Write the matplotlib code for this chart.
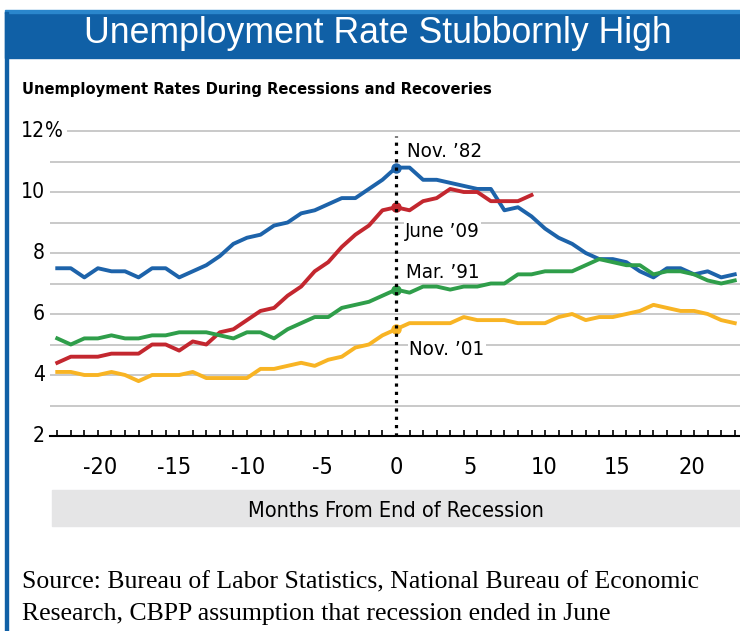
import numpy as np
import matplotlib.pyplot as plt
import matplotlib.font_manager as fm
from matplotlib.font_manager import FontProperties
from matplotlib.patches import Rectangle
from matplotlib.transforms import blended_transform_factory

# months from the end of each recession
months = np.arange(-25, 26)

# unemployment rate (%) around each recession end
nov82 = [7.5, 7.5, 7.2, 7.5, 7.4, 7.4, 7.2, 7.5, 7.5, 7.2, 7.4, 7.6, 7.9, 8.3,
         8.5, 8.6, 8.9, 9.0, 9.3, 9.4, 9.6, 9.8, 9.8, 10.1, 10.4, 10.8,
         10.8, 10.4, 10.4, 10.3, 10.2, 10.1, 10.1, 9.4, 9.5, 9.2, 8.8, 8.5,
         8.3, 8.0, 7.8, 7.8, 7.7, 7.4, 7.2, 7.5, 7.5, 7.3, 7.4, 7.2, 7.3]
jun09 = [4.4, 4.6, 4.6, 4.6, 4.7, 4.7, 4.7, 5.0, 5.0, 4.8, 5.1, 5.0, 5.4, 5.5,
         5.8, 6.1, 6.2, 6.6, 6.9, 7.4, 7.7, 8.2, 8.6, 8.9, 9.4, 9.5,
         9.4, 9.7, 9.8, 10.1, 10.0, 10.0, 9.7, 9.7, 9.7, 9.9]
mar91 = [5.2, 5.0, 5.2, 5.2, 5.3, 5.2, 5.2, 5.3, 5.3, 5.4, 5.4, 5.4, 5.3, 5.2,
         5.4, 5.4, 5.2, 5.5, 5.7, 5.9, 5.9, 6.2, 6.3, 6.4, 6.6, 6.8,
         6.7, 6.9, 6.9, 6.8, 6.9, 6.9, 7.0, 7.0, 7.3, 7.3, 7.4, 7.4, 7.4,
         7.6, 7.8, 7.7, 7.6, 7.6, 7.3, 7.4, 7.4, 7.3, 7.1, 7.0, 7.1]
nov01 = [4.1, 4.1, 4.0, 4.0, 4.1, 4.0, 3.8, 4.0, 4.0, 4.0, 4.1, 3.9, 3.9, 3.9,
         3.9, 4.2, 4.2, 4.3, 4.4, 4.3, 4.5, 4.6, 4.9, 5.0, 5.3, 5.5,
         5.7, 5.7, 5.7, 5.7, 5.9, 5.8, 5.8, 5.8, 5.7, 5.7, 5.7, 5.9, 6.0,
         5.8, 5.9, 5.9, 6.0, 6.1, 6.3, 6.2, 6.1, 6.1, 6.0, 5.8, 5.7]

y_ticks = [2, 4, 6, 8, 10, 12]
x_labels = ['-20', '-15', '-10', '-5', '0', '5', '10', '15', '20']

BLUE = '#1d63aa'
RED = '#c3272f'
GREEN = '#2f9e4a'
YELLOW = '#f8b424'
FRAME = '#1060a6'

W, H = 740, 631


def find_narrow(bold):
    # a condensed sans face, if one is installed
    for f in fm.fontManager.ttflist:
        name = f.fname.lower().split('/')[-1]
        if not ('narrow' in name or 'condensed' in name):
            continue
        if 'mono' in name or 'serif' in name or 'italic' in name or 'oblique' in name:
            continue
        if ('bold' in name) == bold:
            return f.fname
    return None


reg_file = find_narrow(False)
bold_file = find_narrow(True)
# Liberation Sans Narrow is much narrower than DejaVu Sans Condensed
shrink = 1.0 if (reg_file and 'narrow' in reg_file.lower()) else 0.84


def narrow(size, bold=False):
    path = bold_file if bold else reg_file
    if path:
        return FontProperties(fname=path, size=size * shrink)
    return FontProperties(family='Liberation Sans', size=size * 0.8,
                          weight='bold' if bold else 'normal')


def fx(px):
    return px / W


def fy(py):
    return 1 - py / H


fig = plt.figure(figsize=(W / 100, H / 100), dpi=100)

# frame: title bar and left rule
fig.patches.append(Rectangle((fx(5), fy(58)), fx(740) - fx(5), fy(12) - fy(58),
                             transform=fig.transFigure, color=FRAME, zorder=0))
fig.patches.append(Rectangle((fx(5), fy(13)), fx(740) - fx(5), fy(10) - fy(13),
                             transform=fig.transFigure, color='#2a86cc', zorder=0))
fig.patches.append(Rectangle((fx(5), fy(631)), fx(8) - fx(5), fy(12) - fy(631),
                             transform=fig.transFigure, color=FRAME, zorder=0))
fig.text(fx(378), fy(43), 'Unemployment Rate Stubbornly High', color='white',
         ha='center', va='baseline', fontsize=25.7, family='Liberation Sans')
fig.text(fx(22), fy(94), 'Unemployment Rates During Recessions and Recoveries',
         ha='left', va='baseline', fontproperties=narrow(14, bold=True))

# axis title band
fig.patches.append(Rectangle((fx(52), fy(526)), fx(740) - fx(52), fy(490) - fy(526),
                             transform=fig.transFigure, color='#e5e5e6', zorder=0))
fig.text(fx(396), fy(517), 'Months From End of Recession', ha='center',
         va='baseline', fontproperties=narrow(18.5))

fig.text(fx(22), fy(588),
         'Source: Bureau of Labor Statistics, National Bureau of Economic',
         ha='left', va='baseline', fontsize=18.5, family='Liberation Serif')
fig.text(fx(22), fy(620),
         'Research, CBPP assumption that recession ended in June',
         ha='left', va='baseline', fontsize=18.5, family='Liberation Serif')

# plot area: 13.55 px per month, 30.5 px per point
ax = fig.add_axes([fx(50), fy(436), fx(740) - fx(50), fy(121.85) - fy(436)])
ax.set_xlim((50 - 396) / 13.55, (740 - 396) / 13.55)
ax.set_ylim(2, 12.3)
ax.patch.set_alpha(0)

for v in range(3, 13):
    ax.axhline(v, color='#c9c9c9', lw=1.4, zorder=1,
               xmin=0.026 if v == 12 else 0)

for s in ['top', 'right', 'left']:
    ax.spines[s].set_visible(False)
ax.spines['bottom'].set_linewidth(1.5)

ax.set_yticks([])
ax.set_xticks(months, minor=True)
ax.tick_params(axis='x', which='minor', direction='in', length=4.5, width=1.2)
# the source chart spaces its labels a bit wider than the monthly ticks
ax.set_xticks(np.arange(-4, 5) * 5.45, x_labels)
ax.tick_params(axis='x', which='major', length=0, pad=14.5)
for lab in ax.get_xticklabels():
    lab.set_fontproperties(narrow(20))

ytr = blended_transform_factory(ax.transAxes, ax.transData)
for v in y_ticks:
    ax.text(-5 / 690, v, str(v), transform=ytr, ha='right', va='center',
            fontproperties=narrow(18))
ax.text(-5 / 690, 12, '%', transform=ytr, ha='left', va='center',
        fontproperties=narrow(18))

zero = list(months).index(0)
series = [(nov82, BLUE), (jun09, RED), (mar91, GREEN), (nov01, YELLOW)]
for vals, col in series:
    ax.plot(months[:len(vals)], vals, color=col, lw=2.8, zorder=3,
            solid_joinstyle='round', clip_on=False)
    ax.plot(0, vals[zero], 'o', color=col, ms=6.5, zorder=4)

ax.vlines(0, 2, 11.85, colors='black', linestyles=(0, (1, 1.6)), lw=2.3, zorder=5)

box = dict(fc='white', ec='none', pad=1)
ax.text(0.81, 11.16, 'Nov. \u201982', fontproperties=narrow(17.5), zorder=2)
ax.text(0.66, 8.53, 'June \u201909', fontproperties=narrow(17.5), zorder=2, bbox=box)
ax.text(0.74, 7.17, 'Mar. \u201991', fontproperties=narrow(17.5), zorder=2)
ax.text(0.96, 4.66, 'Nov. \u201901', fontproperties=narrow(17.5), zorder=2, bbox=box)

fig.savefig('out.png', dpi=100)
